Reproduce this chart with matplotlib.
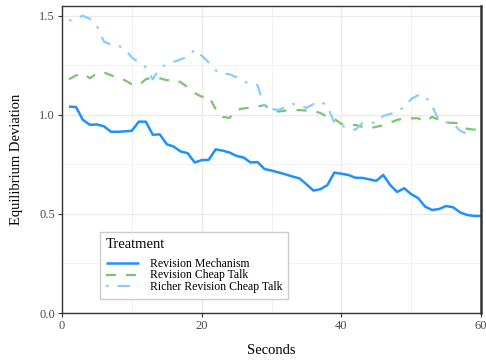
import matplotlib.pyplot as plt
from matplotlib.ticker import MultipleLocator, FormatStrFormatter

plt.rcParams['font.family'] = ['Liberation Serif', 'DejaVu Serif']

seconds = list(range(1, 61))

revision_mechanism = [
    1.042, 1.040, 0.975, 0.950, 0.952, 0.943, 0.915, 0.915, 0.917, 0.920,
    0.966, 0.966, 0.900, 0.902, 0.852, 0.840, 0.815, 0.807, 0.760, 0.772,
    0.773, 0.826, 0.820, 0.810, 0.793, 0.785, 0.760, 0.762, 0.727, 0.719,
    0.710, 0.700, 0.689, 0.680, 0.650, 0.618, 0.625, 0.646, 0.709, 0.703,
    0.697, 0.683, 0.682, 0.675, 0.667, 0.697, 0.646, 0.611, 0.630, 0.600,
    0.580, 0.537, 0.520, 0.525, 0.540, 0.534, 0.508, 0.495, 0.490, 0.490,
]

revision_cheap_talk = [
    1.180, 1.200, 1.210, 1.185, 1.210, 1.215, 1.200, 1.190, 1.175, 1.155,
    1.150, 1.180, 1.190, 1.185, 1.175, 1.180, 1.165, 1.140, 1.110, 1.092,
    1.095, 1.030, 0.990, 0.985, 1.025, 1.033, 1.037, 1.042, 1.050, 1.025,
    1.017, 1.022, 1.025, 1.024, 1.022, 1.020, 1.010, 0.990, 0.980, 0.955,
    0.944, 0.950, 0.940, 0.933, 0.940, 0.948, 0.961, 0.975, 0.983, 0.983,
    0.983, 0.966, 0.990, 0.975, 0.961, 0.960, 0.958, 0.930, 0.926, 0.924,
]

richer_cheap_talk = [
    1.475, 1.490, 1.500, 1.485, 1.450, 1.370, 1.355, 1.350, 1.335, 1.290,
    1.265, 1.240, 1.180, 1.235, 1.257, 1.268, 1.280, 1.295, 1.330, 1.300,
    1.265, 1.225, 1.210, 1.205, 1.190, 1.170, 1.155, 1.150, 1.040, 1.030,
    1.025, 1.040, 1.055, 1.050, 1.035, 1.055, 1.068, 1.045, 0.960, 0.945,
    0.935, 0.925, 0.958, 0.960, 0.962, 0.995, 1.005, 1.015, 1.040, 1.080,
    1.100, 1.095, 1.045, 0.970, 0.962, 0.958, 0.920, 0.905, 0.925, 0.928,
]

fig = plt.figure(figsize=(4.86, 3.62), dpi=100)
ax = fig.add_axes([62 / 486, 49 / 362, 419 / 486, 307 / 362])

ax.plot(seconds, revision_mechanism, color='#1E90FF', lw=1.8,
        solid_capstyle='butt', label='Revision Mechanism')
ax.plot(seconds, revision_cheap_talk, color='#7CC46F', lw=1.6,
        dashes=(4.5, 4.5), label='Revision Cheap Talk')
ax.plot(seconds, richer_cheap_talk, color='#87CEFA', lw=1.6,
        dashes=(1.2, 4, 5.5, 4), label='Richer Revision Cheap Talk')

ax.set_xlim(0, 60)
ax.set_ylim(0, 1.55)
ax.xaxis.set_major_locator(MultipleLocator(20))
ax.xaxis.set_minor_locator(MultipleLocator(10))
ax.yaxis.set_major_locator(MultipleLocator(0.5))
ax.yaxis.set_minor_locator(MultipleLocator(0.25))
ax.yaxis.set_major_formatter(FormatStrFormatter('%.1f'))

ax.grid(which='major', color='#EBEBEB', lw=1.0)
ax.grid(which='minor', color='#F2F2F2', lw=0.7)
ax.set_axisbelow(True)

for side in ['left', 'bottom', 'top', 'right']:
    ax.spines[side].set_color('#333333')
    ax.spines[side].set_linewidth(1.0)
ax.spines['right'].set_linewidth(1.8)

ax.tick_params(which='major', length=3, width=0.8, color='#333333',
               labelsize=9, labelcolor='#4D4D4D', pad=2)
ax.tick_params(which='minor', length=0)

ax.set_xlabel('Seconds', fontsize=10.5, labelpad=9)
ax.set_ylabel('Equilibrium Deviation', fontsize=10.5, labelpad=12)

leg = ax.legend(title='Treatment', loc='lower left',
                bbox_to_anchor=(38 / 419, 14 / 307),
                fontsize=8.5, title_fontsize=10.5, frameon=True,
                fancybox=False, edgecolor='#CCCCCC', framealpha=1,
                handlelength=2.8, handleheight=0.5, handletextpad=0.9,
                labelspacing=-0.02, borderpad=0.5, alignment='left',
                borderaxespad=0)
leg.get_frame().set_linewidth(1.0)
# more room between the legend title and its entries
leg._legend_box.sep = 5

fig.savefig('out.png', dpi=100)
